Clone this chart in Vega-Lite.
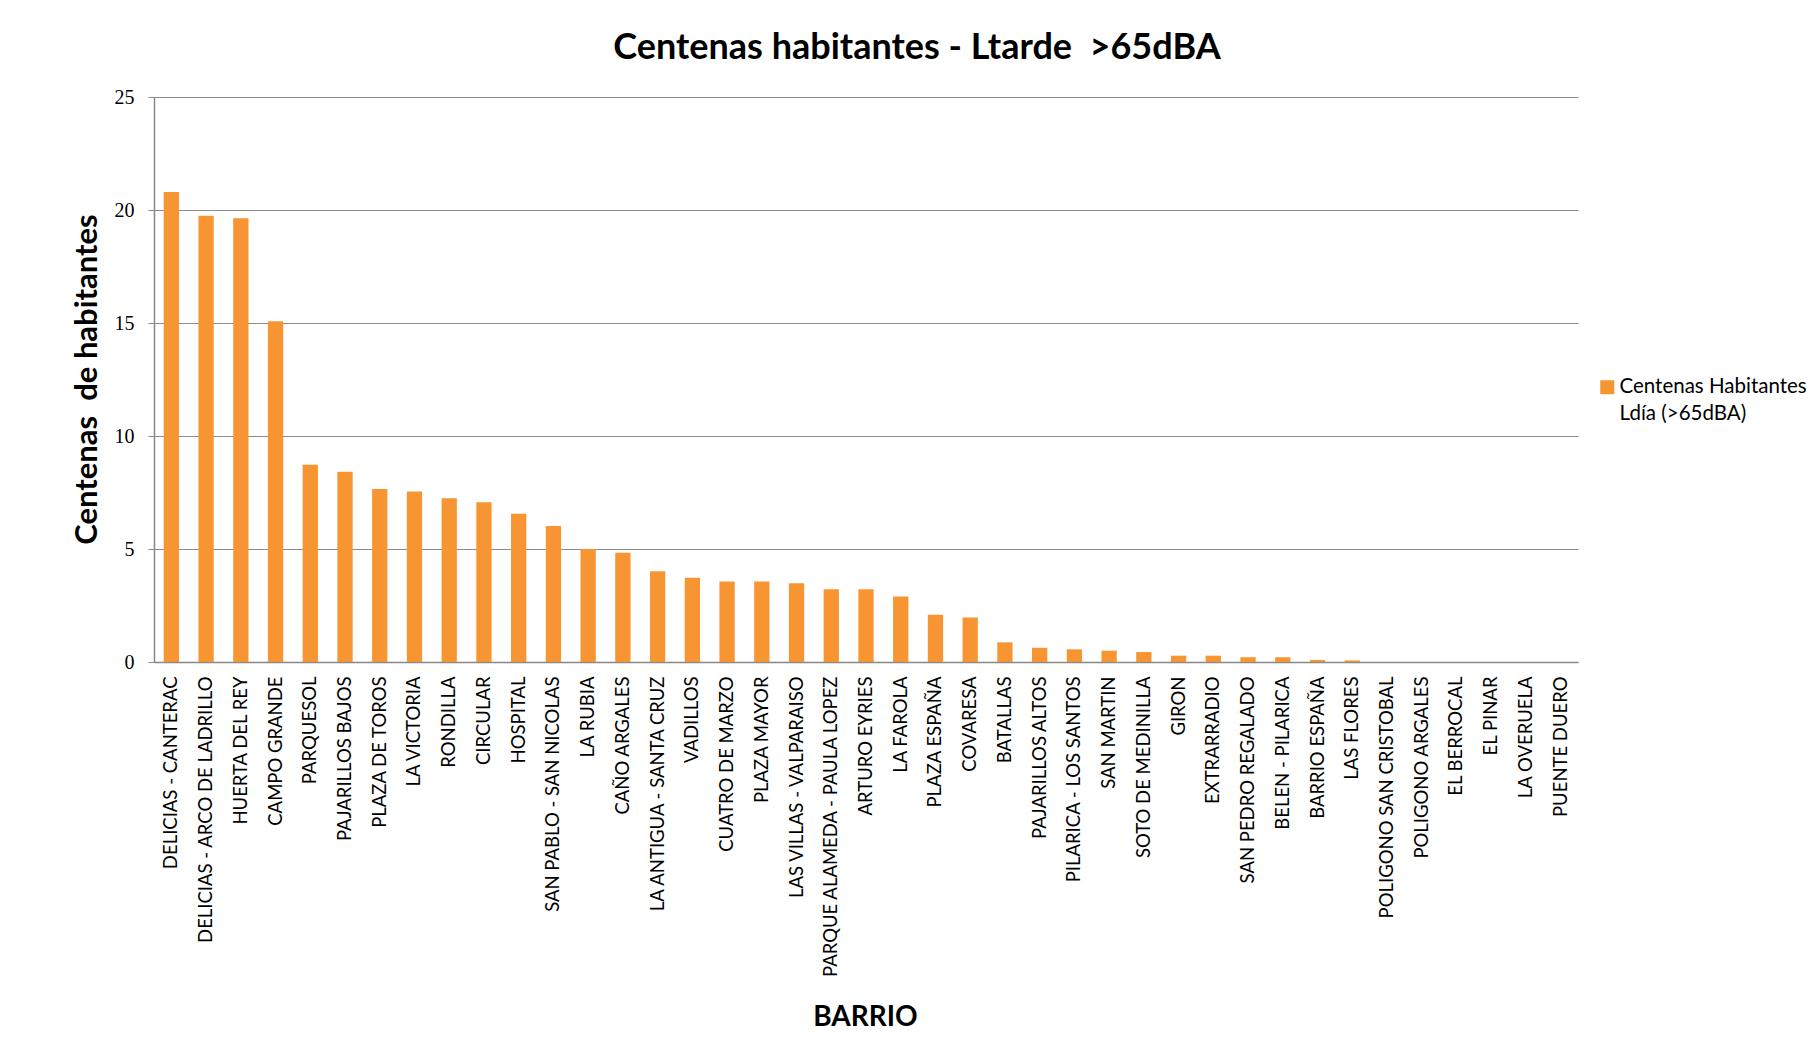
{
  "$schema": "https://vega.github.io/schema/vega-lite/v6.json",
  "width": 1424,
  "height": 565,
  "autosize": "none",
  "padding": {"left": 154, "top": 97, "right": 236, "bottom": 398},
  "background": "white",
  "title": {
    "text": "Centenas habitantes - Ltarde\u00a0 >65dBA",
    "font": "Lato",
    "fontSize": 36,
    "fontWeight": "bold",
    "color": "#000000",
    "anchor": "middle",
    "baseline": "middle",
    "offset": 3,
    "dx": 51
  },
  "data": {
    "values": [
      {"barrio": "DELICIAS - CANTERAC", "valor": 20.8, "serie": "Centenas Habitantes Ldía (>65dBA)"},
      {"barrio": "DELICIAS - ARCO DE LADRILLO", "valor": 19.75, "serie": "Centenas Habitantes Ldía (>65dBA)"},
      {"barrio": "HUERTA DEL REY", "valor": 19.63, "serie": "Centenas Habitantes Ldía (>65dBA)"},
      {"barrio": "CAMPO GRANDE", "valor": 15.08, "serie": "Centenas Habitantes Ldía (>65dBA)"},
      {"barrio": "PARQUESOL", "valor": 8.73, "serie": "Centenas Habitantes Ldía (>65dBA)"},
      {"barrio": "PAJARILLOS BAJOS", "valor": 8.42, "serie": "Centenas Habitantes Ldía (>65dBA)"},
      {"barrio": "PLAZA DE TOROS", "valor": 7.66, "serie": "Centenas Habitantes Ldía (>65dBA)"},
      {"barrio": "LA VICTORIA", "valor": 7.54, "serie": "Centenas Habitantes Ldía (>65dBA)"},
      {"barrio": "RONDILLA", "valor": 7.25, "serie": "Centenas Habitantes Ldía (>65dBA)"},
      {"barrio": "CIRCULAR", "valor": 7.07, "serie": "Centenas Habitantes Ldía (>65dBA)"},
      {"barrio": "HOSPITAL", "valor": 6.56, "serie": "Centenas Habitantes Ldía (>65dBA)"},
      {"barrio": "SAN PABLO - SAN NICOLAS", "valor": 6.02, "serie": "Centenas Habitantes Ldía (>65dBA)"},
      {"barrio": "LA RUBIA", "valor": 5.0, "serie": "Centenas Habitantes Ldía (>65dBA)"},
      {"barrio": "CAÑO ARGALES", "valor": 4.83, "serie": "Centenas Habitantes Ldía (>65dBA)"},
      {"barrio": "LA ANTIGUA - SANTA CRUZ", "valor": 4.02, "serie": "Centenas Habitantes Ldía (>65dBA)"},
      {"barrio": "VADILLOS", "valor": 3.73, "serie": "Centenas Habitantes Ldía (>65dBA)"},
      {"barrio": "CUATRO DE MARZO", "valor": 3.56, "serie": "Centenas Habitantes Ldía (>65dBA)"},
      {"barrio": "PLAZA MAYOR", "valor": 3.56, "serie": "Centenas Habitantes Ldía (>65dBA)"},
      {"barrio": "LAS VILLAS - VALPARAISO", "valor": 3.49, "serie": "Centenas Habitantes Ldía (>65dBA)"},
      {"barrio": "PARQUE ALAMEDA - PAULA LOPEZ", "valor": 3.22, "serie": "Centenas Habitantes Ldía (>65dBA)"},
      {"barrio": "ARTURO EYRIES", "valor": 3.22, "serie": "Centenas Habitantes Ldía (>65dBA)"},
      {"barrio": "LA FAROLA", "valor": 2.9, "serie": "Centenas Habitantes Ldía (>65dBA)"},
      {"barrio": "PLAZA ESPAÑA", "valor": 2.09, "serie": "Centenas Habitantes Ldía (>65dBA)"},
      {"barrio": "COVARESA", "valor": 1.97, "serie": "Centenas Habitantes Ldía (>65dBA)"},
      {"barrio": "BATALLAS", "valor": 0.87, "serie": "Centenas Habitantes Ldía (>65dBA)"},
      {"barrio": "PAJARILLOS ALTOS", "valor": 0.63, "serie": "Centenas Habitantes Ldía (>65dBA)"},
      {"barrio": "PILARICA - LOS SANTOS", "valor": 0.56, "serie": "Centenas Habitantes Ldía (>65dBA)"},
      {"barrio": "SAN MARTIN", "valor": 0.5, "serie": "Centenas Habitantes Ldía (>65dBA)"},
      {"barrio": "SOTO DE MEDINILLA", "valor": 0.44, "serie": "Centenas Habitantes Ldía (>65dBA)"},
      {"barrio": "GIRON", "valor": 0.28, "serie": "Centenas Habitantes Ldía (>65dBA)"},
      {"barrio": "EXTRARRADIO", "valor": 0.28, "serie": "Centenas Habitantes Ldía (>65dBA)"},
      {"barrio": "SAN PEDRO REGALADO", "valor": 0.21, "serie": "Centenas Habitantes Ldía (>65dBA)"},
      {"barrio": "BELEN - PILARICA", "valor": 0.21, "serie": "Centenas Habitantes Ldía (>65dBA)"},
      {"barrio": "BARRIO ESPAÑA", "valor": 0.09, "serie": "Centenas Habitantes Ldía (>65dBA)"},
      {"barrio": "LAS FLORES", "valor": 0.07, "serie": "Centenas Habitantes Ldía (>65dBA)"},
      {"barrio": "POLIGONO SAN CRISTOBAL", "valor": 0, "serie": "Centenas Habitantes Ldía (>65dBA)"},
      {"barrio": "POLIGONO ARGALES", "valor": 0, "serie": "Centenas Habitantes Ldía (>65dBA)"},
      {"barrio": "EL BERROCAL", "valor": 0, "serie": "Centenas Habitantes Ldía (>65dBA)"},
      {"barrio": "EL PINAR", "valor": 0, "serie": "Centenas Habitantes Ldía (>65dBA)"},
      {"barrio": "LA OVERUELA", "valor": 0, "serie": "Centenas Habitantes Ldía (>65dBA)"},
      {"barrio": "PUENTE DUERO", "valor": 0, "serie": "Centenas Habitantes Ldía (>65dBA)"}
    ]
  },
  "mark": {"type": "bar"},
  "encoding": {
    "x": {
      "field": "barrio",
      "type": "nominal",
      "sort": null,
      "scale": {"paddingInner": 0.56, "paddingOuter": 0.28},
      "axis": {
        "title": "BARRIO",
        "titleFont": "Lato",
        "titleFontSize": 28,
        "titleFontWeight": "bold",
        "titleColor": "#000000",
        "titleX": 711,
        "titleY": 355,
        "titleBaseline": "middle",
        "titleAlign": "center",
        "labelAngle": -90,
        "labelAlign": "right",
        "labelBaseline": "middle",
        "labelFont": "Lato",
        "labelFontSize": 18.5,
        "labelColor": "#000000",
        "labelPadding": 14,
        "labelOverlap": false,
        "labelLimit": 0,
        "ticks": false,
        "domainColor": "#888888",
        "domainWidth": 1.5,
        "grid": false
      }
    },
    "y": {
      "field": "valor",
      "type": "quantitative",
      "scale": {"domain": [0, 25], "nice": false},
      "axis": {
        "title": "Centenas\u00a0 de habitantes",
        "titleFont": "Lato",
        "titleFontSize": 31,
        "titleFontWeight": "bold",
        "titleColor": "#000000",
        "titleX": -67,
        "titleY": 282,
        "titleAngle": -90,
        "titleAlign": "center",
        "titleBaseline": "middle",
        "values": [0, 5, 10, 15, 20, 25],
        "labelFont": "Liberation Serif",
        "labelFontSize": 20,
        "labelColor": "#000000",
        "labelPadding": 14,
        "tickSize": 6,
        "tickColor": "#888888",
        "domainColor": "#888888",
        "domainWidth": 1.5,
        "grid": true,
        "gridColor": "#8c8c8c",
        "gridWidth": 1.2
      }
    },
    "color": {
      "field": "serie",
      "type": "nominal",
      "scale": {"range": ["#F79532"]},
      "legend": {
        "title": null,
        "orient": "none",
        "legendX": 1443,
        "legendY": 280,
        "symbolType": "square",
        "symbolSize": 196,
        "symbolStrokeWidth": 0,
        "labelFont": "Lato",
        "labelFontSize": 20.5,
        "labelColor": "#000000",
        "labelBaseline": "middle",
        "labelOffset": 2,
        "labelLimit": 0,
        "labelExpr": "['Centenas Habitantes', 'Ldía (>65dBA)']",
        "padding": 0,
        "encode": {"labels": {"update": {"lineHeight": {"value": 27}}}}
      }
    }
  },
  "config": {
    "view": {"stroke": null}
  }
}
